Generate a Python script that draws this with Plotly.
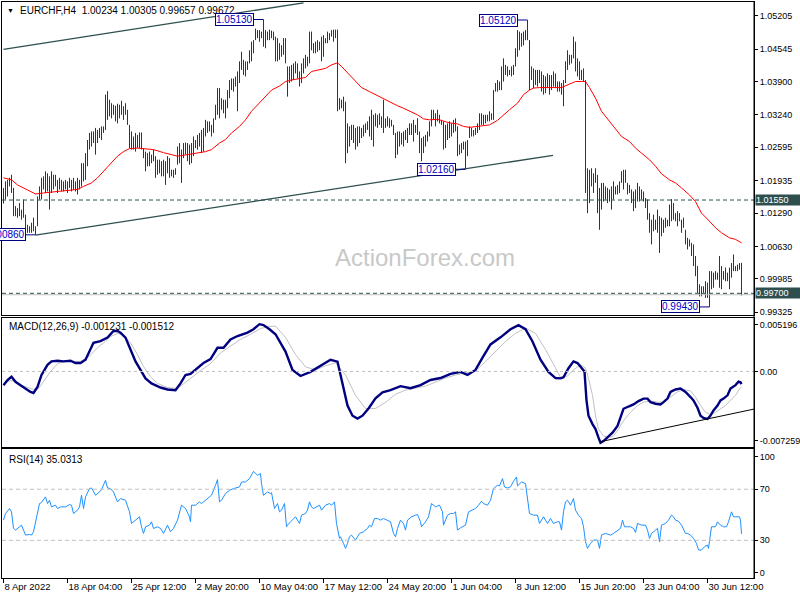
import plotly.graph_objects as go

# ---------------- text ----------------
symbol_text = "EURCHF,H4  1.00234 1.00305 0.99657 0.99672"
macd_text = "MACD(12,26,9) -0.001231 -0.001512"
rsi_text = "RSI(14) 35.0313"
watermark = "ActionForex.com"

# ---------------- price bars (H4, high / low) ----------------
bar_high = [
    1.0179, 1.0192, 1.0195, 1.0199, 1.0205, 1.0179, 1.0143, 1.0139, 1.0149, 1.0136,
    1.0156, 1.0126, 1.0106, 1.0103, 1.0110, 1.0120, 1.0103, 1.0162, 1.0182, 1.0199,
    1.0202, 1.0212, 1.0208, 1.0202, 1.0212, 1.0205, 1.0205, 1.0195, 1.0199, 1.0195,
    1.0192, 1.0195, 1.0192, 1.0199, 1.0195, 1.0199, 1.0192, 1.0199, 1.0195, 1.0228,
    1.0228, 1.0248, 1.0274, 1.0288, 1.0291, 1.0291, 1.0298, 1.0294, 1.0298, 1.0301,
    1.0301, 1.0364, 1.0371, 1.0354, 1.0347, 1.0344, 1.0342, 1.0346, 1.0344, 1.0352,
    1.0341, 1.0347, 1.0334, 1.0304, 1.0291, 1.0281, 1.0288, 1.0284, 1.0289, 1.0289,
    1.0258, 1.0251, 1.0248, 1.0251, 1.0245, 1.0255, 1.0242, 1.0235, 1.0235, 1.0232,
    1.0235, 1.0232, 1.0242, 1.0238, 1.0215, 1.0215, 1.0218, 1.0261, 1.0268, 1.0255,
    1.0268, 1.0269, 1.0268, 1.0265, 1.0268, 1.0281, 1.0274, 1.0284, 1.0288, 1.0294,
    1.0298, 1.0314, 1.0311, 1.0311, 1.0304, 1.0317, 1.0344, 1.0377, 1.0377, 1.0357,
    1.0354, 1.0354, 1.0373, 1.0393, 1.0396, 1.0396, 1.0400, 1.0410, 1.0430, 1.0449,
    1.0433, 1.0430, 1.0430, 1.0452, 1.0469, 1.0472, 1.0495, 1.0492, 1.0492, 1.0489,
    1.0513, 1.0492, 1.0489, 1.0493, 1.0491, 1.0489, 1.0479, 1.0476, 1.0466, 1.0462,
    1.0476, 1.0476, 1.0420, 1.0420, 1.0423, 1.0426, 1.0430, 1.0426, 1.0410, 1.0426,
    1.0436, 1.0443, 1.0439, 1.0489, 1.0489, 1.0466, 1.0469, 1.0472, 1.0469, 1.0479,
    1.0482, 1.0476, 1.0489, 1.0486, 1.0492, 1.0493, 1.0493, 1.0493, 1.0357, 1.0354,
    1.0360, 1.0350, 1.0307, 1.0301, 1.0304, 1.0304, 1.0298, 1.0301, 1.0301, 1.0298,
    1.0304, 1.0307, 1.0311, 1.0321, 1.0334, 1.0324, 1.0327, 1.0324, 1.0327, 1.0321,
    1.0354, 1.0317, 1.0321, 1.0317, 1.0314, 1.0304, 1.0288, 1.0291, 1.0291, 1.0288,
    1.0291, 1.0294, 1.0298, 1.0307, 1.0307, 1.0314, 1.0304, 1.0317, 1.0291, 1.0278,
    1.0281, 1.0284, 1.0291, 1.0311, 1.0334, 1.0334, 1.0327, 1.0334, 1.0324, 1.0314,
    1.0311, 1.0304, 1.0307, 1.0311, 1.0307, 1.0314, 1.0317, 1.0301, 1.0265, 1.0268,
    1.0271, 1.0271, 1.0274, 1.0301, 1.0298, 1.0294, 1.0298, 1.0307, 1.0327, 1.0327,
    1.0324, 1.0324, 1.0324, 1.0331, 1.0327, 1.0373, 1.0387, 1.0393, 1.0390, 1.0420,
    1.0436, 1.0423, 1.0420, 1.0413, 1.0420, 1.0423, 1.0456, 1.0492, 1.0489, 1.0486,
    1.0489, 1.0492, 1.0512, 1.0472, 1.0420, 1.0416, 1.0413, 1.0413, 1.0413, 1.0410,
    1.0403, 1.0400, 1.0406, 1.0403, 1.0403, 1.0410, 1.0406, 1.0390, 1.0390, 1.0387,
    1.0393, 1.0430, 1.0452, 1.0443, 1.0443, 1.0479, 1.0469, 1.0436, 1.0430, 1.0413,
    1.0416, 1.0393, 1.0218, 1.0215, 1.0218, 1.0208, 1.0218, 1.0205, 1.0179, 1.0189,
    1.0189, 1.0182, 1.0179, 1.0176, 1.0182, 1.0192, 1.0182, 1.0185, 1.0192, 1.0212,
    1.0215, 1.0215, 1.0189, 1.0185, 1.0176, 1.0172, 1.0176, 1.0189, 1.0182, 1.0176,
    1.0172, 1.0159, 1.0156, 1.0129, 1.0116, 1.0126, 1.0116, 1.0136, 1.0123, 1.0120,
    1.0116, 1.0120, 1.0116, 1.0146, 1.0157, 1.0149, 1.0129, 1.0133, 1.0129, 1.0116,
    1.0120, 1.0096, 1.0080, 1.0077, 1.0070, 1.0067, 1.0044, 1.0024, 0.9988, 0.9984,
    0.9984, 0.9994, 0.9991, 1.0014, 1.0014, 1.0011, 1.0014, 1.0011, 1.0044, 1.0024,
    1.0014, 1.0021, 1.0011, 1.0021, 1.0030, 1.0047, 1.0024, 1.0027, 1.0030, 1.00305,
]
bar_low = [
    1.0148, 1.0156, 1.0162, 1.0182, 1.0169, 1.0123, 1.0123, 1.0120, 1.0123, 1.0116,
    1.0120, 1.0093, 1.0090, 1.0090, 1.0090, 1.0093, 1.0086, 1.0103, 1.0156, 1.0156,
    1.0176, 1.0169, 1.0172, 1.0136, 1.0169, 1.0176, 1.0182, 1.0169, 1.0176, 1.0172,
    1.0172, 1.0176, 1.0169, 1.0179, 1.0172, 1.0176, 1.0172, 1.0166, 1.0176, 1.0182,
    1.0192, 1.0195, 1.0222, 1.0255, 1.0261, 1.0268, 1.0245, 1.0268, 1.0278, 1.0274,
    1.0288, 1.0294, 1.0314, 1.0321, 1.0317, 1.0324, 1.0311, 1.0307, 1.0317, 1.0324,
    1.0314, 1.0324, 1.0304, 1.0258, 1.0255, 1.0255, 1.0251, 1.0258, 1.0258, 1.0255,
    1.0238, 1.0212, 1.0222, 1.0222, 1.0228, 1.0232, 1.0199, 1.0205, 1.0208, 1.0202,
    1.0202, 1.0185, 1.0208, 1.0199, 1.0202, 1.0199, 1.0205, 1.0225, 1.0228, 1.0189,
    1.0238, 1.0245, 1.0232, 1.0225, 1.0228, 1.0242, 1.0258, 1.0255, 1.0261, 1.0248,
    1.0251, 1.0281, 1.0288, 1.0291, 1.0281, 1.0288, 1.0314, 1.0324, 1.0317, 1.0334,
    1.0327, 1.0317, 1.0337, 1.0357, 1.0373, 1.0370, 1.0380, 1.0331, 1.0387, 1.0413,
    1.0403, 1.0400, 1.0413, 1.0426, 1.0430, 1.0446, 1.0472, 1.0476, 1.0469, 1.0476,
    1.0459, 1.0456, 1.0472, 1.0472, 1.0476, 1.0472, 1.0430, 1.0430, 1.0433, 1.0439,
    1.0443, 1.0426, 1.0360, 1.0387, 1.0390, 1.0393, 1.0406, 1.0396, 1.0380, 1.0387,
    1.0406, 1.0416, 1.0420, 1.0426, 1.0452, 1.0446, 1.0446, 1.0449, 1.0452, 1.0430,
    1.0439, 1.0466, 1.0466, 1.0472, 1.0479, 1.0469, 1.0476, 1.0331, 1.0334, 1.0337,
    1.0331, 1.0228, 1.0248, 1.0261, 1.0274, 1.0268, 1.0255, 1.0261, 1.0268, 1.0278,
    1.0281, 1.0288, 1.0294, 1.0281, 1.0274, 1.0261, 1.0301, 1.0298, 1.0304, 1.0298,
    1.0288, 1.0298, 1.0301, 1.0298, 1.0301, 1.0284, 1.0238, 1.0245, 1.0261, 1.0265,
    1.0261, 1.0274, 1.0268, 1.0284, 1.0284, 1.0271, 1.0288, 1.0284, 1.0248, 1.0232,
    1.0248, 1.0261, 1.0271, 1.0281, 1.0301, 1.0314, 1.0301, 1.0311, 1.0307, 1.0304,
    1.0255, 1.0258, 1.0274, 1.0278, 1.0281, 1.0288, 1.0291, 1.0242, 1.0245, 1.0248,
    1.0255, 1.0216, 1.0242, 1.0278, 1.0281, 1.0281, 1.0284, 1.0288, 1.0294, 1.0304,
    1.0304, 1.0307, 1.0311, 1.0311, 1.0314, 1.0314, 1.0370, 1.0370, 1.0373, 1.0373,
    1.0390, 1.0403, 1.0400, 1.0403, 1.0400, 1.0403, 1.0420, 1.0439, 1.0452, 1.0459,
    1.0462, 1.0472, 1.0472, 1.0373, 1.0393, 1.0377, 1.0383, 1.0380, 1.0387, 1.0370,
    1.0364, 1.0367, 1.0377, 1.0364, 1.0373, 1.0380, 1.0377, 1.0370, 1.0370, 1.0364,
    1.0341, 1.0387, 1.0413, 1.0423, 1.0426, 1.0436, 1.0410, 1.0400, 1.0393, 1.0393,
    1.0390, 1.0169, 1.0129, 1.0149, 1.0182, 1.0169, 1.0189, 1.0129, 1.0096, 1.0136,
    1.0152, 1.0156, 1.0149, 1.0152, 1.0136, 1.0156, 1.0166, 1.0166, 1.0169, 1.0189,
    1.0176, 1.0189, 1.0166, 1.0169, 1.0149, 1.0133, 1.0139, 1.0152, 1.0152, 1.0156,
    1.0152, 1.0139, 1.0116, 1.0090, 1.0067, 1.0093, 1.0096, 1.0090, 1.0050, 1.0083,
    1.0090, 1.0100, 1.0103, 1.0103, 1.0113, 1.0116, 1.0113, 1.0103, 1.0113, 1.0090,
    1.0100, 1.0067, 1.0057, 1.0063, 1.0044, 1.0024, 1.0004, 0.9971, 0.9964, 0.9964,
    0.9971, 0.9961, 0.9961, 0.9943, 0.9978, 0.9981, 0.9997, 0.9997, 0.9981, 0.9978,
    0.9997, 0.9994, 0.9994, 0.9978, 1.0001, 1.0014, 1.0014, 1.0014, 1.0017, 0.99657,
]

# ---------------- moving average (red) ----------------
ma_idx = [0, 4, 7, 10, 14, 16, 20, 24, 27, 32, 37, 40, 44, 47, 50, 54, 57, 60, 63, 67,
          70, 75, 80, 84, 87, 92, 98, 101, 104, 108, 111, 114, 118, 121, 124, 128, 131, 134, 138, 141,
          144, 148, 151, 154, 158, 161, 164, 167, 169, 173, 176, 179, 183, 186, 190, 193, 197, 200, 203, 207,
          210, 213, 217, 220, 223, 227, 230, 233, 237, 240, 243, 247, 250, 253, 257, 260, 263, 265, 268, 273,
          279, 283, 286, 289, 291, 293, 296, 299, 303, 306, 309, 313, 316, 319, 323, 326, 329, 333, 336, 339,
          343, 346, 349, 353, 356, 359, 363, 366, 369]
ma_val = [1.0199, 1.0195, 1.0185, 1.0179, 1.0170, 1.0167, 1.0169, 1.0170, 1.0172, 1.0174,
          1.0176, 1.0182, 1.0189, 1.0199, 1.0212, 1.0228, 1.0242, 1.0251, 1.0257, 1.0258,
          1.0257, 1.0255, 1.0249, 1.0245, 1.0242, 1.0245, 1.0248, 1.0251, 1.0255, 1.0268,
          1.0275, 1.0288, 1.0301, 1.0314, 1.0331, 1.0347, 1.0359, 1.0373, 1.0381, 1.0390,
          1.0393, 1.0396, 1.0398, 1.0410, 1.0413, 1.0416, 1.0423, 1.0427, 1.0420, 1.0403,
          1.0390, 1.0378, 1.0370, 1.0364, 1.0355, 1.0350, 1.0342, 1.0337, 1.0331, 1.0324,
          1.0316, 1.0314, 1.0315, 1.0311, 1.0308, 1.0306, 1.0301, 1.0299, 1.0301, 1.0302,
          1.0304, 1.0313, 1.0324, 1.0334, 1.0347, 1.0364, 1.0373, 1.0377, 1.0378, 1.0378,
          1.0378, 1.0385, 1.0390, 1.0390, 1.0390, 1.0378, 1.0357, 1.0331, 1.0311, 1.0294,
          1.0281, 1.0271, 1.0258, 1.0248, 1.0235, 1.0222, 1.0207, 1.0195, 1.0189, 1.0179,
          1.0165, 1.0152, 1.0129, 1.0113, 1.0100, 1.0090, 1.0080, 1.0077, 1.0070]

# ---------------- MACD ----------------
macd_idx = [0, 2, 4, 6, 8.5, 11, 13.5, 15, 17, 19,
            22, 24, 27, 30, 33.5, 36, 38.5, 41, 43.5, 45,
            48.5, 52, 55, 57, 58.5, 61, 63.5, 66, 68.5, 71,
            74, 78.5, 82, 86, 88.5, 91, 93.5, 97, 100, 103.5,
            107, 110, 113.5, 117, 122, 125, 128, 130, 133, 136,
            141, 144.5, 148.5, 153.5, 158.5, 163.5, 167, 169.5, 172, 174.5,
            177, 179.5, 182.5, 186, 189.5, 193.5, 198.5, 203.5, 208.5, 213.5,
            218.5, 223.5, 228.5, 232, 236, 239.5, 243.5, 248.5, 253.5, 257.5,
            261, 264.5, 268.5, 272.5, 276, 278.5, 280, 282.5, 285, 287,
            289, 290.5, 291.5, 292.5, 294.5, 296, 297.5, 298.5, 300, 302,
            304.5, 307, 308.5, 310, 312.5, 315, 317.5, 320, 322, 323.5,
            326, 328.5, 330, 332, 333.5, 336, 338.5, 341, 343.5, 345,
            347, 348.5, 350, 352, 353.5, 355, 357, 358.5, 360, 362,
            363.5, 366, 367.5, 368.5, 369]
macd_val = [-0.00133, -0.00083, -0.00051, -0.00100, -0.00133, -0.00166, -0.00199, -0.00209, -0.00150, -0.00034,
            0.00065, 0.00098, 0.00104, 0.00098, 0.00104, 0.00082, 0.00082, 0.00114, 0.00213, 0.00279,
            0.00295, 0.00329, 0.00394, 0.00394, 0.00378, 0.00329, 0.00213, 0.00098, 0.00015, -0.00067,
            -0.00116, -0.00156, -0.00175, -0.00182, -0.00116, -0.00034, -0.00024, 0.00032, 0.00082, 0.00121,
            0.00230, 0.00230, 0.00312, 0.00345, 0.00378, 0.00411, 0.00460, 0.00451, 0.00411, 0.00362,
            0.00193, 0.00015, -0.00044, -0.00004, 0.00055, 0.00114, 0.00095, -0.00133, -0.00331, -0.00430,
            -0.00459, -0.00430, -0.00360, -0.00261, -0.00202, -0.00182, -0.00143, -0.00163, -0.00133, -0.00083,
            -0.00064, -0.00024, -0.00004, -0.00034, 0.00015, 0.00134, 0.00263, 0.00332, 0.00411, 0.00451,
            0.00411, 0.00292, 0.00114, -0.00004, -0.00064, -0.00067, -0.00057, 0.00032, 0.00098, 0.00082,
            0.00032, -0.00001, -0.00281, -0.00430, -0.00512, -0.00561, -0.00644, -0.00694, -0.00677, -0.00637,
            -0.00595, -0.00529, -0.00446, -0.00363, -0.00341, -0.00321, -0.00288, -0.00264, -0.00264, -0.00298,
            -0.00314, -0.00321, -0.00298, -0.00264, -0.00199, -0.00175, -0.00166, -0.00199, -0.00249, -0.00281,
            -0.00353, -0.00430, -0.00452, -0.00462, -0.00430, -0.00380, -0.00331, -0.00281, -0.00264, -0.00232,
            -0.00166, -0.00133, -0.00100, -0.00106, -0.001231]
sig_idx = [0, 3.5, 6, 8.5, 12, 15, 17.5, 20, 23.5, 27,
           30, 33.5, 38.5, 42.5, 47, 50, 53.5, 57, 60, 63.5,
           67, 70, 73.5, 77, 82, 87, 90, 93.5, 98.5, 103.5,
           108.5, 113.5, 118.5, 123.5, 128.5, 132.5, 136, 141, 146, 151,
           156, 161, 166, 171, 176, 181, 186, 191, 196, 201,
           206, 211, 216, 221, 226, 231, 236, 241, 246, 251,
           256, 261, 266, 271, 276, 278.5, 282, 285, 288.5, 291,
           292.5, 294.5, 296, 297.5, 300, 302.5, 305, 307.5, 310, 313.5,
           317, 320, 323.5, 327, 330, 333.5, 337, 340, 343.5, 346,
           348.5, 351, 353.5, 356, 358.5, 361, 363.5, 366, 368.5, 369]
sig_val = [-0.00116, -0.00090, -0.00093, -0.00133, -0.00156, -0.00175, -0.00166, -0.00100, -0.00001, 0.00075,
           0.00098, 0.00098, 0.00098, 0.00141, 0.00230, 0.00279, 0.00339, 0.00371, 0.00352, 0.00279,
           0.00164, 0.00048, -0.00051, -0.00116, -0.00156, -0.00166, -0.00116, -0.00067, 0.00009, 0.00075,
           0.00181, 0.00246, 0.00312, 0.00362, 0.00418, 0.00438, 0.00441, 0.00332, 0.00164, 0.00045,
           0.00015, 0.00055, 0.00085, -0.00034, -0.00232, -0.00360, -0.00360, -0.00301, -0.00222, -0.00182,
           -0.00163, -0.00143, -0.00103, -0.00064, -0.00034, -0.00014, 0.00006, 0.00095, 0.00193, 0.00292,
           0.00371, 0.00421, 0.00371, 0.00213, 0.00035, -0.00057, -0.00044, 0.00015, 0.00065, 0.00032,
           -0.00067, -0.00232, -0.00430, -0.00561, -0.00627, -0.00644, -0.00627, -0.00561, -0.00479, -0.00397,
           -0.00331, -0.00298, -0.00288, -0.00298, -0.00298, -0.00249, -0.00199, -0.00175, -0.00189, -0.00249,
           -0.00331, -0.00397, -0.00420, -0.00397, -0.00363, -0.00331, -0.00281, -0.00232, -0.00156, -0.001512]

# ---------------- RSI(14) ----------------
rsi_points = [
    (0, 45.8), (1, 51.0), (3, 54.9), (4, 52.3), (5, 39.3), (6, 38.0), (8, 40.6), (9, 41.9), (10, 38.0), (11, 34.1),
    (13, 34.6), (14, 34.1), (15, 36.7), (16.5, 48.4), (18, 58.8), (19, 59.6), (21, 64.0), (22, 58.8), (23, 61.4), (24, 56.2),
    (26, 57.5), (27, 54.9), (28.5, 56.2), (31, 56.2), (33, 58.0), (34, 57.5), (35, 51.0), (37, 53.6), (38, 56.2), (39, 65.3),
    (40, 54.9), (41, 64.0), (43, 70.5), (44, 71.0), (46, 65.3), (48, 67.9), (49, 69.7), (51, 77.0), (52, 71.0), (53.5, 70.5),
    (55, 67.9), (57, 60.1), (58.5, 62.7), (61, 61.4), (63, 52.3), (64, 43.2), (66, 45.8), (68, 48.4), (69, 40.6), (70, 35.4),
    (71, 40.6), (73, 41.9), (74, 44.5), (75, 39.3), (77, 40.6), (78.5, 39.3), (80, 35.4), (82, 41.9), (83.5, 36.7), (85, 39.3),
    (87, 45.8), (89, 57.5), (91, 54.9), (93, 48.4), (93.5, 44.5), (94, 57.5), (96, 57.5), (98, 60.1), (99, 58.8), (102, 62.7),
    (104, 65.3), (106, 73.1), (107, 77.5), (108, 60.1), (109, 61.4), (111, 66.6), (113, 69.2), (115, 70.5), (118, 71.8), (119, 75.7),
    (121, 75.7), (123, 78.3), (124, 80.9), (125, 84.0), (127, 80.9), (128.5, 82.2), (129, 74.4), (130, 65.3), (132, 67.9), (133.5, 66.6),
    (134, 67.4), (135.5, 54.9), (137, 58.8), (138, 52.3), (139, 53.6), (140.5, 58.8), (141.5, 40.6), (142, 41.9), (143.5, 44.5), (145, 47.1),
    (146, 48.4), (148, 43.2), (149, 49.7), (151, 51.0), (152, 53.6), (153, 60.1), (154, 56.2), (155, 54.9), (156.5, 56.2), (158, 57.5),
    (159, 53.6), (161, 57.5), (163, 58.8), (164, 57.5), (165.5, 60.1), (166.5, 43.2), (168, 31.5), (168.5, 32.8), (170, 27.6), (171, 23.7),
    (172, 27.6), (173, 32.8), (174, 34.1), (176, 30.2), (178, 35.4), (180, 36.7), (182, 39.3), (183, 41.9), (184, 40.6), (185.5, 47.1),
    (187, 47.1), (188.5, 45.8), (190, 47.1), (192, 45.8), (193.5, 44.5), (195, 35.4), (196, 32.8), (197, 39.3),
    (198.5, 45.8), (200, 43.2), (201, 38.0), (202, 45.8), (204, 48.4), (206, 49.7), (207, 50.2), (208.5, 44.5), (209, 40.6), (211, 44.5),
    (212.5, 48.4), (214, 58.8), (216, 56.2), (218, 57.5), (219.5, 52.3), (220, 41.9), (222, 49.7), (223.5, 51.0), (225, 51.0), (226, 52.3),
    (227, 38.0), (228.5, 39.8), (231, 41.9), (232.5, 52.3), (234, 53.6), (236, 54.9), (237.5, 57.5), (239, 60.6), (240, 58.8), (242, 57.5),
    (243.5, 61.4), (245, 70.5), (247, 73.1), (248, 72.6), (249.5, 78.3), (250.5, 71.8), (252, 71.0), (253.5, 71.8), (255, 76.2), (256.5, 79.6),
    (257, 72.6), (258, 74.4), (259, 75.7), (261, 74.4), (262, 64.0), (263, 51.0), (265, 49.7), (267, 49.7), (268, 43.2), (270, 48.4),
    (272, 43.2), (273.5, 47.1), (275, 43.2), (277, 44.5), (278, 44.5), (279, 38.0), (280, 52.3), (281, 60.1), (282, 61.4), (283.5, 57.5),
    (285, 62.7), (286, 53.6), (287.5, 49.7), (289, 47.1), (290, 40.6), (291, 28.9), (292, 23.7), (293.5, 27.6), (295, 30.2), (297, 30.2),
    (298, 23.7), (299, 34.1), (301, 35.4), (303.5, 34.1), (305, 35.4), (307, 38.0), (308.5, 39.3), (309.5, 45.8), (310.5, 40.6), (312, 40.6),
    (313.5, 40.6), (315, 39.3), (316, 36.2), (317, 43.2), (319, 41.9), (321, 41.9), (322, 38.0), (323, 31.5), (324, 35.4), (326, 38.0),
    (327, 39.3), (328, 28.9), (329, 41.9), (331, 43.2), (332.5, 45.8), (334, 49.7), (335, 48.4), (336, 45.8), (337.5, 45.0), (339, 41.9),
    (341, 35.4), (342, 35.4), (343.5, 34.1), (345, 31.5), (346.5, 27.6), (347.5, 22.4), (349, 22.4), (350.5, 25.0), (352, 26.3), (352.5, 23.7),
    (353.5, 36.7), (354, 40.6), (356, 40.6), (357, 44.5), (358.5, 41.9), (360, 40.6), (361.5, 40.6), (362.5, 44.5), (364, 52.3), (365, 48.4),
    (366, 48.4), (368, 48.4), (368.5, 45.8), (369, 35.0313),
]

# ---------------- axes / annotations data ----------------
tick_idx = [0, 32, 64, 96, 128, 160, 192, 224, 256, 288, 320, 352]
tick_labels = ["8 Apr 2022", "18 Apr 04:00", "25 Apr 12:00", "2 May 20:00", "10 May 04:00",
               "17 May 12:00", "24 May 20:00", "1 Jun 04:00", "8 Jun 12:00", "15 Jun 20:00",
               "23 Jun 04:00", "30 Jun 12:00"]
price_ticks = [1.05205, 1.04545, 1.03900, 1.03240, 1.02595, 1.01935, 1.01290, 1.00630, 0.99985, 0.99325]
level_lines = [1.01550, 0.99700]
bid_price = 0.99672
price_marks = [(130, 1.05130), (262, 1.05120), (231, 1.02160), (353, 0.99430), (16, 1.00860)]
upper_channel = [(0, 1.04539), (150, 1.05461)]
lower_channel = [(16, 1.00856), (274.8, 1.02437)]
macd_trend = [(298.5, -0.00683), (375.5, -0.00365)]
macd_tick_text = ["0.005196", "0.00", "-0.007259"]
rsi_tick_text = ["100", "70", "30", "0"]

# ---------------- geometry ----------------
W, H = 800, 600
ML, MR, MT, MB = 2, 46, 2, 22
PW, PH = W - ML - MR, H - MT - MB
FONT = "Liberation Sans"
FS = 10      # annotation text
FS_Y = 9     # right axis labels
FS_X = 9.5   # time axis labels


def py(y):  # page pixel y -> paper
    return (H - MB - y) / PH


def px(x):  # page pixel x -> paper
    return (x - ML) / PW


BAR_C = "#103f5c"
DSLATE = "#2f4f4f"

fig = go.Figure()

bx, by = [], []
for i, (hh, ll) in enumerate(zip(bar_high, bar_low)):
    bx += [i, i, None]
    by += [ll, hh, None]
fig.add_trace(go.Scatter(x=bx, y=by, mode="lines", line=dict(color=BAR_C, width=1),
                         xaxis="x", yaxis="y", hoverinfo="skip", showlegend=False))
fig.add_trace(go.Scatter(x=ma_idx, y=ma_val, mode="lines", line=dict(color="#ff0000", width=1),
                         xaxis="x", yaxis="y", hoverinfo="skip", showlegend=False))
fig.add_trace(go.Scatter(x=sig_idx, y=sig_val, mode="lines", line=dict(color="#c0c0c0", width=1),
                         xaxis="x2", yaxis="y2", hoverinfo="skip", showlegend=False))
fig.add_trace(go.Scatter(x=macd_idx, y=macd_val, mode="lines", line=dict(color="#000080", width=2.4),
                         xaxis="x2", yaxis="y2", hoverinfo="skip", showlegend=False))
fig.add_trace(go.Scatter(x=[p[0] for p in rsi_points], y=[p[1] for p in rsi_points], mode="lines",
                         line=dict(color="#1e90ff", width=1),
                         xaxis="x3", yaxis="y3", hoverinfo="skip", showlegend=False))

xr = [-0.75, PW / 2 - 0.75]
ax_common = dict(showgrid=False, zeroline=False, showline=True, mirror=True, linecolor="black",
                 linewidth=1, automargin=False)
main_range = [0.99270, 1.05477]
macd_range = [-0.00730, 0.00525]
rsi_range = [0.5, 101.5]

main_dom = [py(315), py(2)]
macd_dom = [py(446.5), py(317.5)]
rsi_dom = [py(578), py(449)]


def val_at(pix, dom_top_px, dom_bot_px, rng):
    return rng[1] - (pix - dom_top_px) / (dom_bot_px - dom_top_px) * (rng[1] - rng[0])


macd_tick_pos = [val_at(324.6, 317.5, 446.5, macd_range), 0.0, val_at(440.7, 317.5, 446.5, macd_range)]
rsi_tick_pos = [val_at(456.7, 449, 578, rsi_range), 70, 30, val_at(572.7, 449, 578, rsi_range)]

ytick_common = dict(side="right", tickmode="array", ticks="outside", ticklen=3, tickcolor="black",
                    tickfont=dict(size=FS_Y, family=FONT), ticklabelstandoff=0)

fig.update_layout(
    width=W, height=H, margin=dict(l=ML, r=MR, t=MT, b=MB, pad=0, autoexpand=False),
    paper_bgcolor="white", plot_bgcolor="white",
    font=dict(family=FONT, size=FS, color="black"),
    xaxis=dict(domain=[0, 1], range=xr, anchor="y", showticklabels=False, ticks="", **ax_common),
    xaxis2=dict(domain=[0, 1], range=xr, anchor="y2", matches="x", showticklabels=False, ticks="", **ax_common),
    xaxis3=dict(domain=[0, 1], range=xr, anchor="y3", matches="x", tickmode="array",
                tickvals=tick_idx, ticktext=tick_labels, ticks="outside", ticklen=4, tickcolor="black",
                tickangle=0, ticklabelposition="outside right", tickfont=dict(size=FS_X, family=FONT),
                **ax_common),
    yaxis=dict(domain=main_dom, range=main_range, anchor="x",
               tickvals=price_ticks, ticktext=["%.5f" % v for v in price_ticks],
               **ytick_common, **ax_common),
    yaxis2=dict(domain=macd_dom, range=macd_range, anchor="x2",
                tickvals=macd_tick_pos, ticktext=macd_tick_text, **ytick_common, **ax_common),
    yaxis3=dict(domain=rsi_dom, range=rsi_range, anchor="x3",
                tickvals=rsi_tick_pos, ticktext=rsi_tick_text, **ytick_common, **ax_common),
)

shapes = []
for lv in level_lines:
    shapes.append(dict(type="line", xref="x domain", yref="y", x0=0, x1=1, y0=lv, y1=lv,
                       line=dict(color=DSLATE, width=1, dash="4px,3px")))
shapes.append(dict(type="line", xref="x domain", yref="y", x0=0, x1=1, y0=bid_price, y1=bid_price,
                   line=dict(color="#c0c0c0", width=1)))
for seg in (upper_channel, lower_channel):
    shapes.append(dict(type="line", xref="x", yref="y", x0=seg[0][0], y0=seg[0][1],
                       x1=seg[1][0], y1=seg[1][1], line=dict(color=DSLATE, width=1.3)))
for bi, pv in price_marks:
    shapes.append(dict(type="line", xref="x", yref="y", x0=bi - 5, x1=bi, y0=pv, y1=pv,
                       line=dict(color="#000080", width=1)))
shapes.append(dict(type="line", xref="x2 domain", yref="y2", x0=0, x1=1, y0=0, y1=0,
                   line=dict(color="#c0c0c0", width=1, dash="3px,3px")))
shapes.append(dict(type="line", xref="x2", yref="y2", x0=macd_trend[0][0], y0=macd_trend[0][1],
                   x1=macd_trend[1][0], y1=macd_trend[1][1], line=dict(color="black", width=1)))
for lv in (70, 30):
    shapes.append(dict(type="line", xref="x3 domain", yref="y3", x0=0, x1=1, y0=lv, y1=lv,
                       line=dict(color="#c0c0c0", width=1, dash="4px,3px")))
shapes.append(dict(type="line", xref="paper", yref="paper", x0=1, x1=1, y0=0, y1=1,
                   line=dict(color="black", width=1)))
fig.update_layout(shapes=shapes)

ann = []
ann.append(dict(xref="paper", yref="paper", x=px(10), y=py(10.5), text="▼", showarrow=False,
                xanchor="center", yanchor="middle", font=dict(size=7, color="black", family=FONT)))
ann.append(dict(xref="paper", yref="paper", x=px(18), y=py(10.5), text=symbol_text, showarrow=False,
                xanchor="left", yanchor="middle", font=dict(size=FS, color="black", family=FONT)))
ann.append(dict(xref="paper", yref="paper", x=px(7), y=py(326), text=macd_text, showarrow=False,
                xanchor="left", yanchor="middle", font=dict(size=FS, color="black", family=FONT)))
ann.append(dict(xref="paper", yref="paper", x=px(7), y=py(459.5), text=rsi_text, showarrow=False,
                xanchor="left", yanchor="middle", font=dict(size=FS, color="black", family=FONT)))
ann.append(dict(xref="paper", yref="paper", x=px(425), y=py(257), text=watermark, showarrow=False,
                xanchor="center", yanchor="middle", font=dict(size=24, color="#c8c8c8", family=FONT)))
for bi, pv in price_marks:
    ann.append(dict(xref="x", yref="y", x=bi, y=pv, text="%.5f" % pv, showarrow=False,
                    xanchor="right", yanchor="middle", xshift=-10,
                    bgcolor="white", bordercolor="#000080", borderwidth=1, borderpad=0,
                    font=dict(size=FS, color="#0000c8", family=FONT)))
for lv in level_lines:
    ann.append(dict(xref="paper", yref="y", x=1, y=lv, text="%.5f" % lv, showarrow=False,
                    xanchor="left", yanchor="middle", xshift=1, width=44, align="left",
                    bgcolor=DSLATE, borderpad=0,
                    font=dict(size=FS_Y, color="white", family=FONT)))
fig.update_layout(annotations=ann)

fig.write_html("out.html", config={"displayModeBar": False},
               post_script="document.body.style.margin='0px';document.body.style.padding='0px';")
